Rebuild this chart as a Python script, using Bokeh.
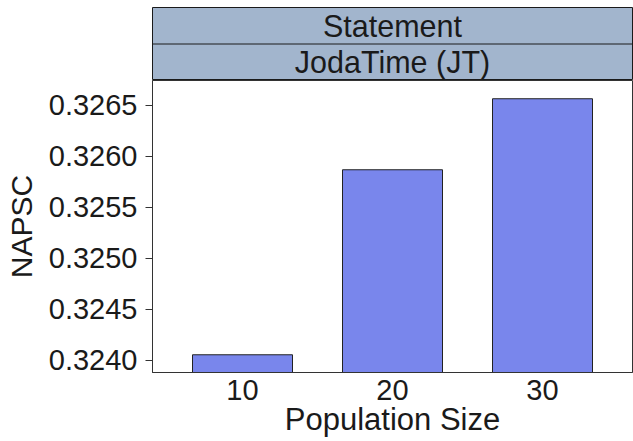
from bokeh.plotting import figure
from bokeh.layouts import column
from bokeh.models import FactorRange, Range1d, FixedTicker, PrintfTickFormatter, Span
from bokeh.core.properties import value
from bokeh.embed import file_html
from bokeh.resources import INLINE

# ---- data ----
categories = ["10", "20", "30"]
napsc = [0.324053, 0.325869, 0.326566]
y_ticks = [0.3240, 0.3245, 0.3250, 0.3255, 0.3260, 0.3265]
y_limits = [0.323879, 0.326745]
strip_labels = ["Statement", "JodaTime (JT)"]
strip_levels = [1.5, 0.5]
x_title = "Population Size"
y_title = "NAPSC"

FONT = "Liberation Sans"
TXT = "#1a1a1a"
EDGE = "#333333"
STRIP_FILL = "#A2B5CD"
BAR_FILL = "#7986EC"

# ---- facet strips ----
strip = figure(width=633, height=80, x_range=Range1d(0, 1), y_range=Range1d(0, 2),
               toolbar_location=None, output_backend="svg",
               x_axis_location=None, y_axis_location=None,
               min_border_left=152, min_border_right=1, min_border_top=7, min_border_bottom=0)
strip.grid.visible = False
strip.background_fill_color = STRIP_FILL
strip.border_fill_color = "white"
strip.outline_line_color = "#1a1a1a"
strip.outline_line_width = 1
strip.add_layout(Span(location=1, dimension="width", line_color="#1a1a1a", line_width=1))
strip.text(x=[0.5, 0.5], y=strip_levels, text=strip_labels, text_align="center",
           text_baseline="middle", text_font=value(FONT), text_font_size="30.5px",
           text_color=TXT)

# ---- main panel ----
p = figure(width=633, height=361,
           x_range=FactorRange(factors=categories, range_padding=0.1, range_padding_units="absolute"),
           y_range=Range1d(y_limits[0], y_limits[1]),
           toolbar_location=None, output_backend="svg",
           min_border_left=152, min_border_right=1, min_border_top=0, min_border_bottom=69)
p.grid.visible = False
p.background_fill_color = "white"
p.border_fill_color = "white"
p.outline_line_color = EDGE
p.outline_line_width = 1

p.vbar(x=categories, top=napsc, bottom=0, width=2 / 3, fill_color=BAR_FILL,
       line_color="#222222", line_width=1)

yax = p.yaxis[0]
yax.ticker = FixedTicker(ticks=y_ticks)
yax.formatter = PrintfTickFormatter(format="%.4f")
yax.axis_label = y_title
yax.axis_label_text_font = FONT
yax.axis_label_text_font_size = "30px"
yax.axis_label_text_font_style = "normal"
yax.axis_label_text_color = TXT
yax.axis_label_standoff = 8
yax.major_label_text_font = FONT
yax.major_label_text_font_size = "29px"
yax.major_label_text_color = TXT
yax.major_label_standoff = 8
yax.major_tick_out = 7
yax.major_tick_in = 0
yax.minor_tick_out = 0
yax.minor_tick_in = 0
yax.axis_line_color = EDGE
yax.major_tick_line_color = EDGE

xax = p.xaxis[0]
xax.axis_label = x_title
xax.axis_label_text_font = FONT
xax.axis_label_text_font_size = "31px"
xax.axis_label_text_font_style = "normal"
xax.axis_label_text_color = TXT
xax.axis_label_standoff = -1
xax.major_label_text_font = FONT
xax.major_label_text_font_size = "29px"
xax.major_label_text_color = TXT
xax.major_label_standoff = 7
xax.major_tick_out = 0
xax.major_tick_in = 0
xax.major_tick_line_color = None
xax.axis_line_color = EDGE

layout = column(strip, p, spacing=0)
open("out.html", "w").write(file_html(layout, INLINE))
